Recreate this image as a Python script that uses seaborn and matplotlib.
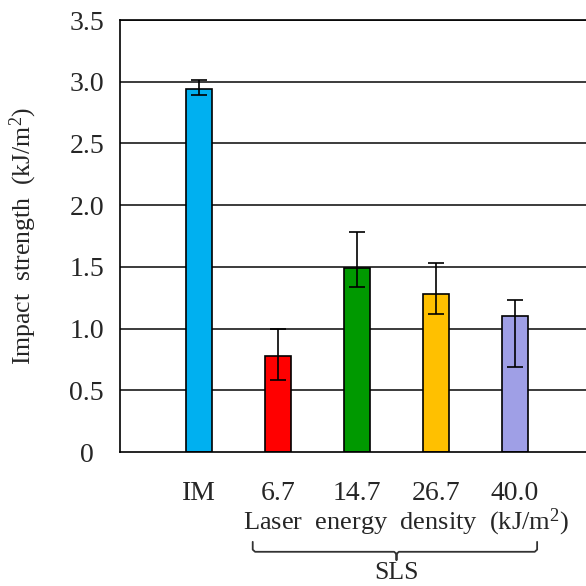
import numpy as np
import pandas as pd
import seaborn as sns
import matplotlib.pyplot as plt
import matplotlib.transforms as mtransforms

# data
categories = ['IM', '6.7', '14.7', '26.7', '40.0']
strength = [2.94, 0.78, 1.49, 1.28, 1.10]
err_low = [0.05, 0.20, 0.15, 0.16, 0.41]
err_high = [0.07, 0.22, 0.29, 0.25, 0.13]
colors = ['#00B0F0', '#FF0000', '#009900', '#FFC000', '#9F9FE6']
yticks = [0, 0.5, 1.0, 1.5, 2.0, 2.5, 3.0, 3.5]
ytick_labels = ['0', '0.5', '1.0', '1.5', '2.0', '2.5', '3.0', '3.5']

sns.set_style('white')
plt.rcParams['font.family'] = ['Liberation Serif', 'DejaVu Serif']
plt.rcParams['mathtext.fontset'] = 'custom'
plt.rcParams['mathtext.rm'] = 'Liberation Serif'
plt.rcParams['mathtext.it'] = 'Liberation Serif:italic'

df = pd.DataFrame({'cat': categories, 'val': strength})

fig = plt.figure(figsize=(5.86, 5.86), dpi=100)
ax = fig.add_axes([120 / 586, 1 - 452 / 586, 1 - 120 / 586, 432 / 586])

# grid lines behind bars
for y in yticks[1:]:
    ax.axhline(y, color='#1a1a1a', lw=1.2, zorder=0)

sns.barplot(data=df, x='cat', y='val', hue='cat', palette=colors, legend=False,
            saturation=1, width=0.33, edgecolor='black', linewidth=1.2, ax=ax, zorder=2)

ax.errorbar(np.arange(len(categories)), strength, yerr=[err_low, err_high],
            fmt='none', ecolor='black', elinewidth=1.2, capsize=6, capthick=1.2, zorder=3)

ax.set_xlim(-1, -1 + 466 / 79)
ax.set_ylim(0, 3.5)
ax.set_yticks(yticks)
ax.set_yticklabels(ytick_labels)
ax.tick_params(axis='y', length=0, pad=24, labelsize=20)
for lab in ax.get_yticklabels():
    lab.set_horizontalalignment('center')
ax.tick_params(axis='x', length=0, pad=21, labelsize=20)
ax.set_xlabel('')
ax.set_ylabel('Impact  strength  (kJ/m$^2$)', fontsize=18.5)
ax.yaxis.set_label_coords(-0.174, 0.5)

for s in ['left', 'bottom', 'top']:
    ax.spines[s].set_color('black')
    ax.spines[s].set_linewidth(1.2)
ax.spines['right'].set_visible(False)

# second line of x labels and SLS bracket
trans = mtransforms.blended_transform_factory(ax.transData, ax.transAxes)
ax.text(2.62, -0.162, 'Laser  energy  density  (kJ/m$^2$)', transform=trans,
        ha='center', va='center', fontsize=19)
bx = [0.68, 0.68, 0.71, 2.47, 2.5, 2.5, 2.5, 2.53, 4.25, 4.28, 4.28]
by = [-0.208, -0.226, -0.231, -0.231, -0.236, -0.25, -0.236, -0.231, -0.231, -0.226, -0.208]
ax.plot(bx, by, color='#333333', lw=1.3, transform=trans, clip_on=False)
ax.text(2.5, -0.281, 'SLS', transform=trans, ha='center', va='center', fontsize=18.5)

fig.savefig('out.png', dpi=100)
